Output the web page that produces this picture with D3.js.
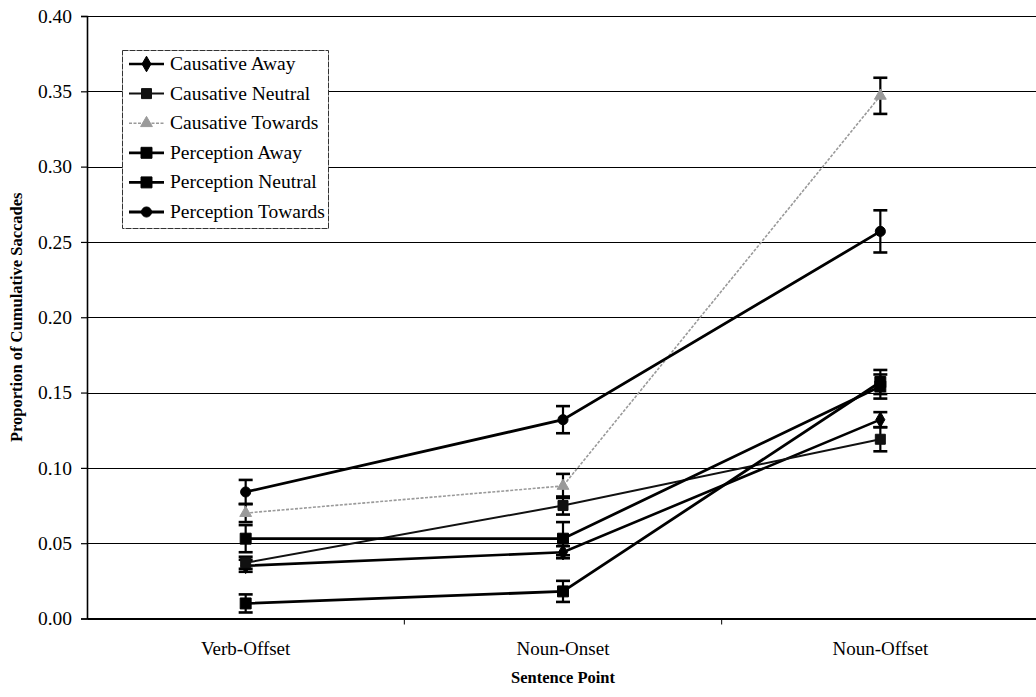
<!DOCTYPE html>
<html>
<head>
<meta charset="utf-8">
<script src="https://cdn.jsdelivr.net/npm/d3@7"></script>
<style>
  html, body { margin: 0; padding: 0; background: #fff; }
  svg { display: block; }
</style>
</head>
<body>
<svg id="chart" width="1036" height="697"></svg>
<script>
// Sentence points along the x axis
const categories = ["Verb-Offset", "Noun-Onset", "Noun-Offset"];

// Series names (legend order)
const seriesNames = ["Causative Away", "Causative Neutral", "Causative Towards",
                     "Perception Away", "Perception Neutral", "Perception Towards"];

// Mean proportions per sentence point
const causativeAway      = [0.035, 0.044, 0.132];
const causativeNeutral   = [0.037, 0.075, 0.119];
const causativeTowards   = [0.070, 0.088, 0.347];
const perceptionAway     = [0.010, 0.018, 0.157];
const perceptionNeutral  = [0.053, 0.053, 0.154];
const perceptionTowards  = [0.084, 0.132, 0.257];

// Standard errors (half-length of each error bar)
const causativeAwayErr     = [0.004, 0.004, 0.005];
const causativeNeutralErr  = [0.004, 0.006, 0.008];
const causativeTowardsErr  = [0.006, 0.008, 0.012];
const perceptionAwayErr    = [0.006, 0.007, 0.008];
const perceptionNeutralErr = [0.009, 0.011, 0.008];
const perceptionTowardsErr = [0.008, 0.009, 0.014];

const yTicks = [0, 0.05, 0.10, 0.15, 0.20, 0.25, 0.30, 0.35, 0.40];

const seriesValues = [causativeAway, causativeNeutral, causativeTowards,
                      perceptionAway, perceptionNeutral, perceptionTowards];
const seriesErrors = [causativeAwayErr, causativeNeutralErr, causativeTowardsErr,
                      perceptionAwayErr, perceptionNeutralErr, perceptionTowardsErr];

const FONT = "'Liberation Serif', 'Times New Roman', Times, serif";

// Visual style per series
const styles = [
  { shape: d3.symbolDiamond, size: 70,  color: "#000", width: 2.6, dash: null },
  { shape: d3.symbolSquare,  size: 100, color: "#111", width: 2.0, dash: null },
  { shape: d3.symbolTriangle,size: 60,  color: "#9a9a9a", width: 1.6, dash: "3,1.5" },
  { shape: d3.symbolSquare,  size: 120, color: "#000", width: 2.8, dash: null },
  { shape: d3.symbolSquare,  size: 120, color: "#000", width: 2.8, dash: null },
  { shape: d3.symbolCircle,  size: 80,  color: "#000", width: 2.8, dash: null }
];

const series = seriesNames.map((name, i) => ({
  name,
  style: styles[i],
  points: categories.map((c, j) => ({ cat: c, v: seriesValues[i][j], e: seriesErrors[i][j] }))
}));

const svg = d3.select("#chart");
const margin = { left: 87, right: -3, top: 16, bottom: 78 };
const W = 1036, H = 697;

const x = d3.scaleBand().domain(categories).range([margin.left, W - margin.right]);
const y = d3.scaleLinear().domain([0, 0.40]).range([H - margin.bottom - 0.5, margin.top]);
const cx = c => x(c) + x.bandwidth() / 2;

// Horizontal gridlines
svg.append("g")
  .selectAll("line")
  .data(yTicks.filter(t => t > 0))
  .join("line")
  .attr("x1", margin.left).attr("x2", W)
  .attr("y1", d => Math.round(y(d)) + 0.5).attr("y2", d => Math.round(y(d)) + 0.5)
  .attr("stroke", "#000").attr("stroke-width", 1.2);

// Y axis
const yAxis = svg.append("g")
  .attr("transform", `translate(${margin.left},0)`)
  .call(d3.axisLeft(y).tickValues(yTicks).tickFormat(d3.format(".2f")).tickSize(6).tickPadding(9));
yAxis.attr("font-family", FONT).attr("font-size", 19.5);
yAxis.select(".domain").attr("stroke", "#000").attr("stroke-width", 1.6);
yAxis.selectAll(".tick line").attr("stroke", "#000").attr("stroke-width", 1.2);
yAxis.selectAll(".tick text").attr("fill", "#000");

// X axis
const xAxis = svg.append("g")
  .attr("transform", `translate(0,${y(0)})`)
  .call(d3.axisBottom(x).tickSize(0).tickPadding(23));
xAxis.attr("font-family", FONT).attr("font-size", 19);
xAxis.select(".domain").attr("stroke", "#000").attr("stroke-width", 2);
xAxis.selectAll(".tick text").attr("fill", "#000");
// Category boundary ticks
svg.append("g")
  .selectAll("line")
  .data(categories.slice(1))
  .join("line")
  .attr("x1", d => x(d)).attr("x2", d => x(d))
  .attr("y1", y(0)).attr("y2", y(0) + 6)
  .attr("stroke", "#000").attr("stroke-width", 1);

// Axis titles
svg.append("text")
  .attr("x", cx(categories[1])).attr("y", 683)
  .attr("text-anchor", "middle")
  .attr("font-family", FONT).attr("font-size", 16.5).attr("font-weight", "bold")
  .text("Sentence Point");
svg.append("text")
  .attr("transform", `translate(22,${y(0.20)}) rotate(-90)`)
  .attr("text-anchor", "middle")
  .attr("font-family", FONT).attr("font-size", 16.5).attr("font-weight", "bold")
  .text("Proportion of Cumulative Saccades");

// Series lines
const line = d3.line().x(d => cx(d.cat)).y(d => y(d.v));
const plot = svg.append("g");
series.forEach(s => {
  plot.append("path")
    .datum(s.points)
    .attr("d", line)
    .attr("fill", "none")
    .attr("stroke", s.style.color)
    .attr("stroke-width", s.style.width)
    .attr("stroke-dasharray", s.style.dash);
});

// Error bars
const capHalf = 7;
series.forEach(s => {
  const g = plot.append("g");
  s.points.forEach(p => {
    const xc = cx(p.cat), y1 = y(p.v + p.e), y0 = y(p.v - p.e);
    g.append("line").attr("x1", xc).attr("x2", xc).attr("y1", y1).attr("y2", y0)
      .attr("stroke", "#000").attr("stroke-width", 2.2);
    [y1, y0].forEach(yy => g.append("line")
      .attr("x1", xc - capHalf).attr("x2", xc + capHalf).attr("y1", yy).attr("y2", yy)
      .attr("stroke", "#000").attr("stroke-width", 2.6));
  });
});

// Markers
series.forEach(s => {
  plot.append("g").selectAll("path")
    .data(s.points)
    .join("path")
    .attr("transform", d => `translate(${cx(d.cat)},${y(d.v)})`)
    .attr("d", d3.symbol().type(s.style.shape).size(s.style.size))
    .attr("fill", s.style.color)
    .attr("stroke", s.style.color)
    .attr("stroke-width", 1);
});

// Legend
const legend = svg.append("g").attr("transform", "translate(122,50)");
legend.append("rect")
  .attr("x", 0.5).attr("y", 0.5).attr("width", 206).attr("height", 178)
  .attr("fill", "#fff").attr("stroke", "#333").attr("stroke-width", 1)
  .attr("stroke-dasharray", "6,1");
series.forEach((s, i) => {
  const ly = 14 + i * 29.6;
  const row = legend.append("g").attr("transform", `translate(0,${ly})`);
  row.append("line").attr("x1", 7).attr("x2", 42).attr("y1", 0).attr("y2", 0)
    .attr("stroke", s.style.color).attr("stroke-width", s.style.width)
    .attr("stroke-dasharray", s.style.dash);
  row.append("path")
    .attr("transform", "translate(24.5,0)")
    .attr("d", d3.symbol().type(s.style.shape).size(s.style.size))
    .attr("fill", s.style.color).attr("stroke", s.style.color);
  row.append("text").attr("x", 48).attr("y", 6)
    .attr("font-family", FONT).attr("font-size", 19.5).attr("fill", "#000")
    .text(s.name);
});
</script>
</body>
</html>
